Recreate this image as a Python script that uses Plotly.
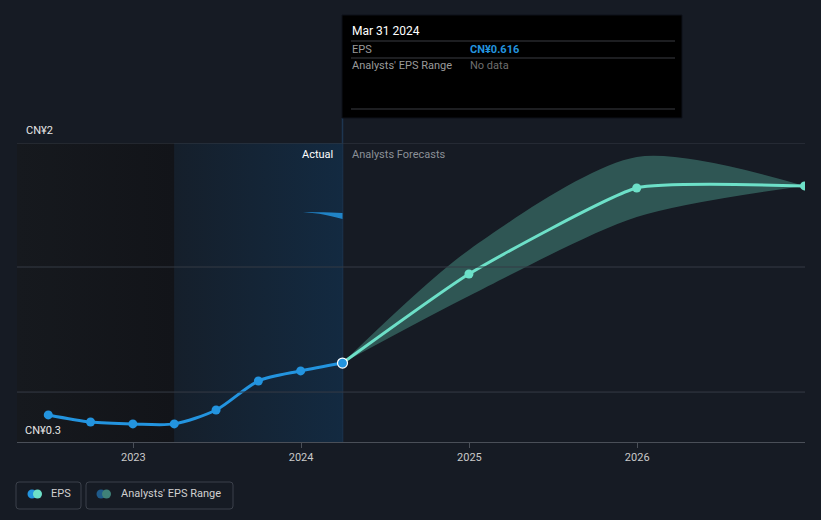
import plotly.graph_objects as go

# ---------------- data ----------------
eps_dates = ["2022-06-30", "2022-09-30", "2022-12-31", "2023-03-31",
             "2023-06-30", "2023-09-30", "2023-12-31", "2024-03-31"]
eps_values = [0.454, 0.414, 0.403, 0.403, 0.482, 0.647, 0.704, 0.749]

fc_dates = ["2024-03-31", "2024-12-31", "2025-12-31", "2026-12-31"]
fc_values = [0.749, 1.255, 1.744, 1.756]
fc_upper = [0.749, 1.392, 1.920, 1.756]
fc_lower = [0.749, 1.130, 1.579, 1.756]

past_dates = ["2024-01-05", "2024-02-18", "2024-03-31"]
past_upper = [1.608, 1.606, 1.602]
past_lower = [1.608, 1.594, 1.568]

grid_values = [0.584, 1.295, 2.0]
tick_years = ["2023-01-01", "2024-01-01", "2025-01-01", "2026-01-01"]
tick_labels = ["2023", "2024", "2025", "2026"]

x_range = ["2022-04-23", "2027-01-01"]
y_range = [0.3, 2.0]
past_start = "2023-03-31"
now_date = "2024-03-31"

BG = "#161b24"
FONT = "Roboto"

# plot area geometry (pixels)
W, H = 821, 520
L, R, T, B = 17, 16, 143, 78
PW, PH = W - L - R, H - T - B


def px(x):
    return (x - L) / PW


def py(y):
    return (H - B - y) / PH


fig = go.Figure()

# past-year highlight with gradient
fig.add_trace(go.Scatter(
    x=[x_range[0], past_start, past_start, x_range[0], x_range[0]],
    y=[y_range[0], y_range[0], y_range[1], y_range[1], y_range[0]],
    fill="toself", mode="lines", line=dict(width=0),
    fillgradient=dict(type="horizontal",
                      colorscale=[[0, "#16191e"], [1, "#121419"]]),
    hoverinfo="skip", showlegend=False))
fig.add_trace(go.Scatter(
    x=[past_start, now_date, now_date, past_start, past_start],
    y=[y_range[0], y_range[0], y_range[1], y_range[1], y_range[0]],
    fill="toself", mode="lines", line=dict(width=0),
    fillgradient=dict(type="horizontal",
                      colorscale=[[0, "#151f2b"], [1, "#132a41"]]),
    hoverinfo="skip", showlegend=False))

# small past range wedge
fig.add_trace(go.Scatter(x=past_dates, y=past_lower, mode="lines",
                         line=dict(width=0, shape="spline"),
                         hoverinfo="skip", showlegend=False))
fig.add_trace(go.Scatter(x=past_dates, y=past_upper, mode="lines",
                         line=dict(width=0, shape="spline"),
                         fill="tonexty", fillcolor="rgba(35,148,223,0.85)",
                         hoverinfo="skip", showlegend=False))

# forecast range band
fig.add_trace(go.Scatter(x=fc_dates, y=fc_lower, mode="lines",
                         line=dict(width=0, shape="spline", smoothing=0.8),
                         hoverinfo="skip", showlegend=False))
fig.add_trace(go.Scatter(x=fc_dates, y=fc_upper, mode="lines",
                         line=dict(width=0, shape="spline", smoothing=0.8),
                         fill="tonexty", fillcolor="rgba(72,145,132,0.5)",
                         hoverinfo="skip", showlegend=False))

# forecast line
fig.add_trace(go.Scatter(x=fc_dates, y=fc_values, mode="lines+markers",
                         line=dict(color="#6de0c8", width=3, shape="spline", smoothing=0.45),
                         marker=dict(size=9, color="#6de0c8"),
                         showlegend=False))

# EPS line
fig.add_trace(go.Scatter(x=eps_dates, y=eps_values, mode="lines+markers",
                         line=dict(color="#2394df", width=3, shape="spline", smoothing=0.8),
                         marker=dict(size=9, color="#2394df"),
                         showlegend=False))
# highlighted point
fig.add_trace(go.Scatter(x=[eps_dates[-1]], y=[eps_values[-1]], mode="markers",
                         marker=dict(size=10, color="#2394df",
                                     line=dict(color="#ffffff", width=1.2)),
                         cliponaxis=False, showlegend=False))

shapes = []
# gridlines
for g in grid_values:
    shapes.append(dict(type="line", xref="paper", yref="y", x0=0, x1=1, y0=g, y1=g,
                       line=dict(color="#353b45", width=1), layer="above"))
# vertical "now" line
shapes.append(dict(type="line", xref="x", yref="paper", x0=now_date, x1=now_date,
                   y0=0, y1=py(118), line=dict(color="#1d3550", width=1.5), layer="below"))

# tooltip box
shapes.append(dict(type="rect", xref="paper", yref="paper",
                   x0=px(342), x1=px(682), y0=py(118), y1=py(15),
                   fillcolor="#000000", line=dict(color="#0d1118", width=1)))
for ly in [41, 58, 109]:
    shapes.append(dict(type="line", xref="paper", yref="paper",
                       x0=px(351), x1=px(675), y0=py(ly), y1=py(ly),
                       line=dict(color="#3a3d42", width=1)))

# legend boxes


def rounded(x0, y0, x1, y1, r=3):
    a, b, c, d = px(x0), py(y0), px(x1), py(y1)
    rx, ry = r / PW, r / PH
    return (f"M {a+rx},{b} L {c-rx},{b} Q {c},{b} {c},{b-ry} L {c},{d+ry} "
            f"Q {c},{d} {c-rx},{d} L {a+rx},{d} Q {a},{d} {a},{d+ry} "
            f"L {a},{b-ry} Q {a},{b} {a+rx},{b} Z")


shapes.append(dict(type="path", xref="paper", yref="paper", path=rounded(16, 482, 81, 509),
                   line=dict(color="#3b404a", width=1)))
shapes.append(dict(type="path", xref="paper", yref="paper", path=rounded(86, 482, 233, 509),
                   line=dict(color="#3b404a", width=1)))


def circle(cx, cy, r, color):
    return dict(type="circle", xref="paper", yref="paper",
                x0=px(cx - r), x1=px(cx + r), y0=py(cy + r), y1=py(cy - r),
                fillcolor=color, line=dict(width=0))


shapes += [circle(32, 494, 4.5, "#2394df"), circle(37.5, 494, 4.5, "#6de0c8"),
           circle(101, 494, 4.5, "#1f5a8a"), circle(106.5, 494, 4.5, "#3f8178")]

annotations = []


def text(x, y, s, color, size=11, anchor="left", bold=False):
    if bold:
        s = f"<b>{s}</b>"
    annotations.append(dict(x=px(x), y=py(y), xref="paper", yref="paper", text=s,
                            showarrow=False, xanchor=anchor, yanchor="middle",
                            font=dict(family=FONT, size=size, color=color)))


text(24, 130, "CN¥2", "#e6e6e6")
text(23, 430, "CN¥0.3", "#e6e6e6")
text(335, 154, "Actual", "#ffffff", size=11, anchor="right")
text(350, 154, "Analysts Forecasts", "#8b9097", size=11)
text(350, 31, "Mar 31 2024", "#ffffff", size=12)
text(350, 49, "EPS", "#9a9a9a", size=11)
text(468, 49, "CN¥0.616", "#2394df", size=11, bold=True)
text(350, 66, "Analysts' EPS Range", "#9a9a9a", size=11)
text(468, 66, "No data", "#6f6f6f", size=11)
text(49, 494, "EPS", "#d0d0d0", size=11)
text(119, 494, "Analysts' EPS Range", "#d0d0d0", size=11)

fig.update_layout(
    width=W, height=H,
    margin=dict(l=L, r=R, t=T, b=B),
    paper_bgcolor=BG, plot_bgcolor=BG,
    shapes=shapes, annotations=annotations,
    showlegend=False,
    xaxis=dict(type="date", range=x_range, tickvals=tick_years, ticktext=tick_labels,
               showgrid=False, zeroline=False, showline=True, linecolor="#4a4f58",
               linewidth=1, ticks="outside", ticklen=5, tickcolor="#4a4f58",
               tickfont=dict(family=FONT, size=11, color="#c9c9c9"), fixedrange=True),
    yaxis=dict(range=y_range, showgrid=False, zeroline=False, showticklabels=False,
               fixedrange=True),
    font=dict(family=FONT),
)

fig.write_html("out.html")
